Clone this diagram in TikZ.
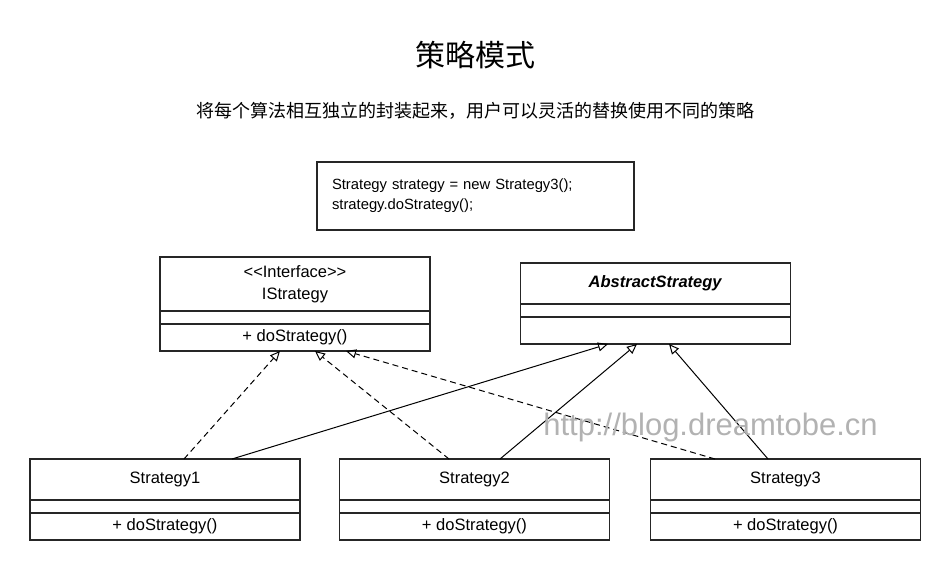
\documentclass[tikz,border=0pt]{standalone}
\usepackage{fontspec}
\setmainfont{Liberation Sans}
\newfontfamily\cjk{Noto Sans CJK SC}
\usetikzlibrary{arrows.meta,positioning}

\begin{document}
\begin{tikzpicture}[
  x=1pt, y=-1pt,
  every node/.style = {inner sep=0pt, outer sep=0pt},
  classpart/.style = {draw=black!85, line width=1.3pt, minimum width=270pt, font=\fontsize{16.5}{22}\selectfont, align=center},
  codebox/.style = {draw=black!85, line width=1.3pt, minimum width=317pt, minimum height=68pt, font=\fontsize{14.8}{20}\selectfont, align=left, text width=287pt},
  realize/.style = {dashed, dash pattern=on 6pt off 4pt, line width=1pt, -{Triangle[open,length=10pt,width=9pt]}},
  inherit/.style = {line width=1pt, -{Triangle[open,length=10pt,width=9pt]}}
  ]

\useasboundingbox (0,0) rectangle (951,570);

% titles
\node (title) at (475,55) {\cjk\fontsize{30}{30}\selectfont 策略模式};
\node (subtitle) at (475,111) {\cjk\fontsize{18}{18}\selectfont 将每个算法相互独立的封装起来，用户可以灵活的替换使用不同的策略};

% client code
\node[codebox] (code) at (475.5,196) {Strategy strategy = new Strategy3();\\strategy.doStrategy();};

% interface
\node[classpart, minimum height=54pt] (ihead) at (295,284) {{<}{<}Interface{>}{>}\\IStrategy};
\node[classpart, minimum height=13pt, below=0pt of ihead] (iattr) {};
\node[classpart, minimum height=27pt, below=0pt of iattr] (iops) {+ doStrategy()};

% abstract class
\node[classpart, minimum height=41pt] (ahead) at (655.5,283.5) {\textbf{\textit{AbstractStrategy}}};
\node[classpart, minimum height=13pt, below=0pt of ahead] (aattr) {};
\node[classpart, minimum height=27pt, below=0pt of aattr] (aops) {};

% concrete strategies
\foreach \name/\x in {1/165, 2/474.5, 3/785.5} {
  \node[classpart, minimum height=41pt] (s\name head) at (\x,479.5) {Strategy\name};
  \node[classpart, minimum height=13pt, below=0pt of s\name head] (s\name attr) {};
  \node[classpart, minimum height=27pt, below=0pt of s\name attr] (s\name ops) {+ doStrategy()};
}

% realization of the interface
\draw[realize] ([xshift=19pt]s1head.north) -- ([xshift=-15pt]iops.south);
\draw[realize] ([xshift=-25.5pt]s2head.north) -- ([xshift=20pt]iops.south);
\draw[realize] ([xshift=-70.5pt]s3head.north) -- ([xshift=51pt]iops.south);

% generalization of the abstract class
\draw[inherit] ([xshift=67pt]s1head.north) -- ([xshift=-47.5pt]aops.south);
\draw[inherit] ([xshift=25.5pt]s2head.north) -- ([xshift=-18.5pt]aops.south);
\draw[inherit] ([xshift=-17.5pt]s3head.north) -- ([xshift=13.5pt]aops.south);

% watermark
\node[text=black!30, font=\fontsize{31}{31}\selectfont] (mark) at (710.5,427) {http://blog.dreamtobe.cn};

\end{tikzpicture}
\end{document}
